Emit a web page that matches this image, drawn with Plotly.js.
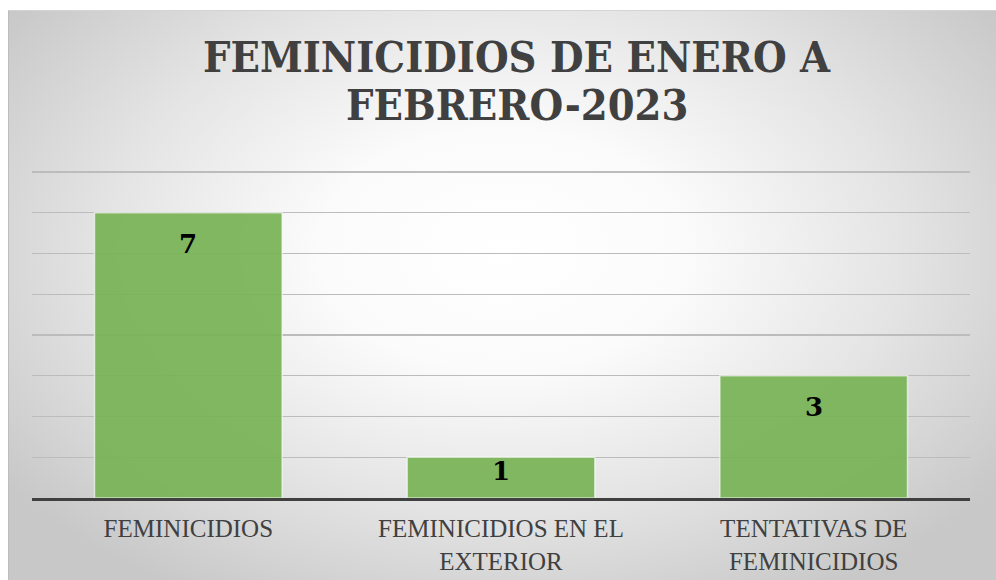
<!DOCTYPE html>
<html>
<head>
<meta charset="utf-8">
<script src="https://cdn.plot.ly/plotly-3.0.1.min.js"></script>
<style>
  html, body { margin: 0; padding: 0; background: #ffffff; }
  #bg {
    position: absolute; left: 8px; top: 10px; width: 988px; height: 570px;
    background: radial-gradient(ellipse 62% 70% at 50% 42%, #ffffff 0%, #fbfbfb 30%, #e4e4e4 65%, #c8c8c8 100%);
    border-left: 1px solid #bdbdbd; border-top: 1px solid #d4d4d4;
  }
  #chart { position: absolute; left: 0; top: 0; width: 996px; height: 580px; }
</style>
</head>
<body>
<div id="bg"></div>
<div id="chart"></div>
<script>
const categories = ["FEMINICIDIOS", "FEMINICIDIOS EN EL<br>EXTERIOR", "TENTATIVAS DE<br>FEMINICIDIOS"];
const values = [7, 1, 3];
const titleLines = ["FEMINICIDIOS DE ENERO A", "FEBRERO-2023"];

const H = 580, plotBottom = 82;
const yTop = 8.05;
const pxPerUnit = 326 / 8;
const plotH = yTop * pxPerUnit;
const plotTop = H - plotBottom - plotH;

const annotations = values.map((v, i) => ({
  x: categories[i], y: v, xref: 'x', yref: 'y',
  text: String(v), showarrow: false,
  yanchor: 'middle', yshift: -Math.min(31, v * pxPerUnit * 0.33),
  font: { family: 'DejaVu Serif', size: 26, color: '#000000', weight: 'bold' }
}));

const titleCentres = [57, 105];
titleLines.forEach((t, i) => {
  annotations.push({
    xref: 'paper', yref: 'paper', x: 0.517, xanchor: 'center',
    y: (H - plotBottom - titleCentres[i]) / plotH, yanchor: 'middle',
    text: '<b>' + t + '</b>', showarrow: false,
    font: { family: 'DejaVu Serif Condensed', size: 43, color: '#404040' }
  });
});

const trace = {
  type: 'bar', x: categories, y: values,
  marker: { color: 'rgba(120,179,86,0.93)', line: { color: 'rgba(255,255,255,0.6)', width: 1.5 } },
  hoverinfo: 'skip'
};

const layout = {
  width: 996, height: 580,
  paper_bgcolor: 'rgba(0,0,0,0)', plot_bgcolor: 'rgba(0,0,0,0)',
  margin: { l: 32, r: 26, t: plotTop, b: plotBottom },
  bargap: 0.4,
  showlegend: false,
  xaxis: {
    type: 'category', showgrid: false, zeroline: false,
    showline: true, linecolor: '#404040', linewidth: 3,
    ticks: 'outside', ticklen: 6, tickcolor: 'rgba(0,0,0,0)',
    tickfont: { family: 'Liberation Serif', size: 25, color: '#404040' }
  },
  yaxis: {
    range: [0, yTop], dtick: 1, showticklabels: false,
    showgrid: true, gridcolor: '#bcbcbc', gridwidth: 1.3,
    zeroline: false, showline: false, fixedrange: true
  },
  annotations: annotations
};

Plotly.newPlot('chart', [trace], layout, { displayModeBar: false, staticPlot: true });
</script>
</body>
</html>
